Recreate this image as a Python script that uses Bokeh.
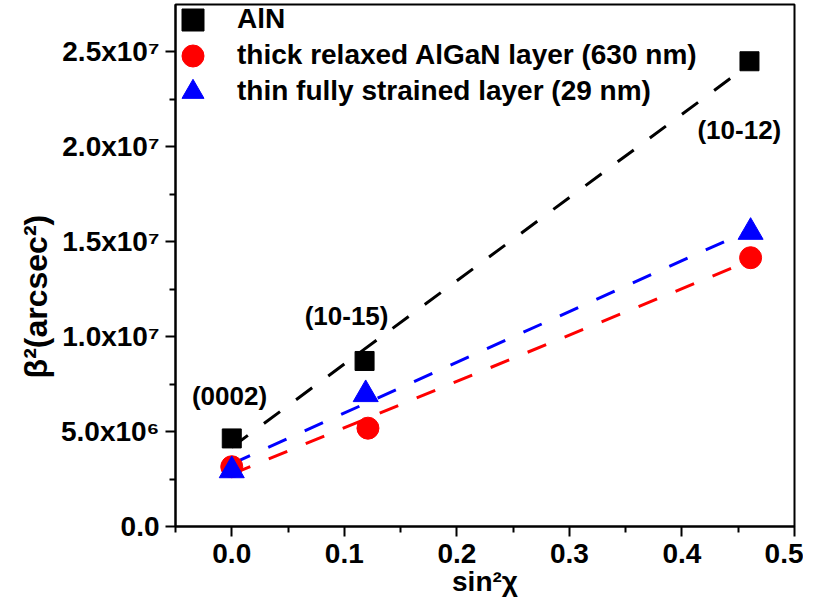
import numpy as np
from bokeh.plotting import figure
from bokeh.models import (FixedTicker, PrintfTickFormatter, Legend, LegendItem,
                          Label, Range1d)
from bokeh.embed import file_html
from bokeh.resources import INLINE

# ---- data ----
aln_x = [0.0, 0.118, 0.46]
aln_y = [4.64e6, 8.72e6, 2.451e7]
thick_x = [0.0, 0.121, 0.461]
thick_y = [3.15e6, 5.18e6, 1.416e7]
thin_x = [0.0, 0.119, 0.461]
thin_y = [2.95e6, 6.96e6, 1.551e7]

series_names = ["AlN", "thick relaxed AlGaN layer (630 nm)",
                "thin fully strained layer (29 nm)"]
peak_labels = ["(0002)", "(10-15)", "(10-12)"]
x_title = "sin\u00b2\u03c7"
y_title = "\u03b2\u00b2(arcsec\u00b2)"

x_ticks = [0.0, 0.1, 0.2, 0.3, 0.4, 0.5]
x_minor = [-0.05, 0.05, 0.15, 0.25, 0.35, 0.45]
y_ticks = [0, 5000000, 10000000, 15000000, 20000000, 25000000]
y_minor = [2500000, 7500000, 12500000, 17500000, 22500000]
y_tick_labels = ["0.0", "5.0x10\u2076", "1.0x10\u2077", "1.5x10\u2077",
                 "2.0x10\u2077", "2.5x10\u2077"]

FONT = "Liberation Sans"
H = 599
BORDER_BOTTOM = 72
BORDER_TOP = 4
FRAME_H = H - BORDER_TOP - BORDER_BOTTOM

p = figure(width=803, height=H, x_range=Range1d(-0.05, 0.5),
           y_range=Range1d(0, 2.75e7), output_backend="svg",
           toolbar_location=None, min_border_left=175, min_border_right=9,
           min_border_top=BORDER_TOP, min_border_bottom=BORDER_BOTTOM)
p.grid.visible = False
p.outline_line_color = "black"
p.outline_line_width = 2
p.background_fill_color = "white"
p.border_fill_color = "white"

# fit lines (least squares from the data)
def fit_line(xs, ys, color):
    k, b = np.polyfit(xs, ys, 1)
    xx = np.array([min(xs), max(xs)])
    p.line(xx, k * xx + b, line_color=color, line_width=3, line_dash="20 20")

fit_line(aln_x, aln_y, "black")
fit_line(thick_x, thick_y, "#ff0000")
fit_line(thin_x, thin_y, "#0000ff")

r1 = p.scatter(aln_x, aln_y, marker="square", size=19, color="black")
r2 = p.scatter(thick_x, thick_y, marker="circle", size=22, color="#ff0000")
r3 = p.scatter(thin_x, thin_y, marker="triangle", size=25, color="#0000ff")

# legend: one Legend per entry so rows can sit closer than the glyph box
row_centers = [20, 56, 92]   # px from figure top
for rend, name, rc in zip([r1, r2, r3], series_names, row_centers):
    lg = Legend(items=[LegendItem(label=name, renderers=[rend])],
                location=(-10, FRAME_H - (rc - BORDER_TOP) - 27.5),
                glyph_width=55, glyph_height=55,
                padding=0, margin=0, label_standoff=17,
                label_text_font=FONT, label_text_font_size="28px",
                label_text_font_style="bold", label_text_color="black",
                background_fill_alpha=0, border_line_alpha=0)
    p.add_layout(lg)

# peak annotations
for lx, ly, t in [(-0.002, 6.88e6, peak_labels[0]),
                  (0.102, 1.108e7, peak_labels[1]),
                  (0.451, 2.09e7, peak_labels[2])]:
    p.add_layout(Label(x=lx, y=ly, text=t, text_align="center",
                       text_baseline="middle", text_font=FONT,
                       text_font_size="26px", text_font_style="bold",
                       text_color="black"))

for ax in (p.xaxis[0], p.yaxis[0]):
    ax.axis_line_width = 2
    ax.major_tick_line_width = 2
    ax.minor_tick_line_width = 2
    ax.major_tick_out = 10
    ax.major_tick_in = 0
    ax.minor_tick_out = 6
    ax.minor_tick_in = 0
    ax.major_label_text_font = FONT
    ax.major_label_text_font_size = "28px"
    ax.major_label_text_font_style = "bold"
    ax.major_label_text_color = "black"
    ax.axis_label_text_font = FONT
    ax.axis_label_text_font_style = "bold"
    ax.axis_label_text_color = "black"

p.xaxis[0].ticker = FixedTicker(ticks=x_ticks, minor_ticks=x_minor)
p.xaxis[0].formatter = PrintfTickFormatter(format="%.1f")
p.xaxis[0].major_label_standoff = 7
p.xaxis[0].axis_label = x_title
p.xaxis[0].axis_label_text_font_size = "28px"
p.xaxis[0].axis_label_standoff = 0

p.yaxis[0].ticker = FixedTicker(ticks=y_ticks, minor_ticks=y_minor)
p.yaxis[0].major_label_overrides = {v: s for v, s in zip(y_ticks, y_tick_labels)}
p.yaxis[0].major_label_standoff = 6
# trailing no-break spaces shift the rotated title down, as in the original
p.yaxis[0].axis_label = y_title + "\u00a0" * 7
p.yaxis[0].axis_label_text_font_size = "32px"
p.yaxis[0].axis_label_standoff = 4

open("out.html", "w").write(file_html(p, INLINE))
